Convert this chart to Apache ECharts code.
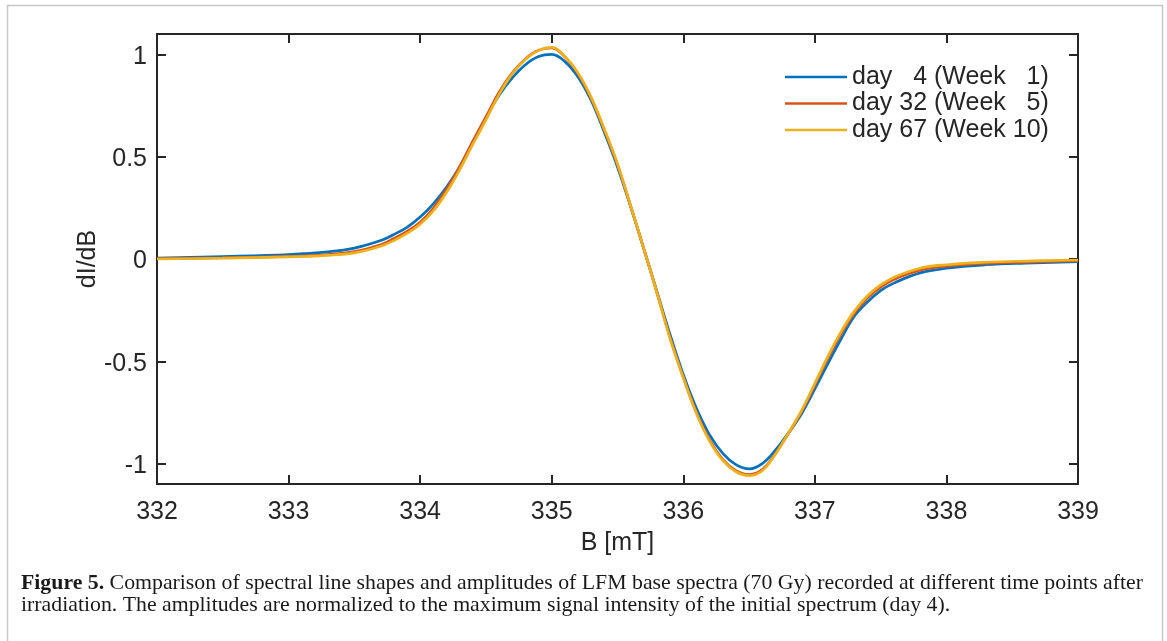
<!DOCTYPE html>
<html>
<head>
<meta charset="utf-8">
<script src="https://cdn.jsdelivr.net/npm/echarts@6/dist/echarts.min.js"></script>
<style>
  html, body { margin: 0; padding: 0; background: #fff; }
  #chart { width: 1167px; height: 641px; }
</style>
</head>
<body>
<div id="chart"></div>
<script>
// magnetic field B [mT]
const fieldB = [332.0, 332.5, 333.0, 333.3, 333.5, 333.7, 333.8, 333.9, 334.0, 334.1,
  334.2, 334.3, 334.4, 334.5, 334.6, 334.7, 334.8, 334.9, 335.0, 335.1,
  335.2, 335.3, 335.4, 335.5, 335.6, 335.7, 335.8, 335.9, 336.0, 336.1,
  336.2, 336.3, 336.4, 336.5, 336.6, 336.7, 336.8, 336.9, 337.0, 337.1,
  337.2, 337.3, 337.4, 337.5, 337.6, 337.8, 338.0, 338.3, 338.6, 339.0];

// dI/dB, normalized to day 4 maximum
const day4 = [0.005, 0.012, 0.022, 0.035, 0.053, 0.09, 0.12, 0.155, 0.205, 0.27,
  0.35, 0.45, 0.57, 0.69, 0.80, 0.885, 0.95, 0.99, 1.0, 0.965,
  0.89, 0.775, 0.62, 0.45, 0.256, 0.05, -0.16, -0.37, -0.565, -0.73,
  -0.86, -0.95, -1.005, -1.026, -1.0, -0.935, -0.85, -0.755, -0.635, -0.51,
  -0.39, -0.28, -0.21, -0.155, -0.118, -0.068, -0.045, -0.028, -0.02, -0.013];

const day32 = [0.002, 0.006, 0.013, 0.022, 0.036, 0.07, 0.1, 0.135, 0.18, 0.248,
  0.34, 0.45, 0.575, 0.695, 0.815, 0.91, 0.978, 1.02, 1.032, 0.988,
  0.905, 0.785, 0.63, 0.46, 0.258, 0.05, -0.165, -0.385, -0.578, -0.75,
  -0.885, -0.98, -1.035, -1.054, -1.03, -0.952, -0.852, -0.745, -0.615, -0.485,
  -0.365, -0.265, -0.19, -0.138, -0.1, -0.055, -0.035, -0.021, -0.015, -0.008];

const day67 = [0.0, 0.004, 0.01, 0.018, 0.03, 0.062, 0.09, 0.125, 0.17, 0.235,
  0.325, 0.436, 0.56, 0.68, 0.805, 0.905, 0.975, 1.02, 1.035, 0.99,
  0.91, 0.79, 0.635, 0.465, 0.26, 0.05, -0.165, -0.39, -0.58, -0.755,
  -0.89, -0.985, -1.04, -1.059, -1.035, -0.955, -0.85, -0.74, -0.608, -0.475,
  -0.355, -0.255, -0.18, -0.127, -0.09, -0.045, -0.028, -0.016, -0.01, -0.005];

const seriesNames = ["day   4 (Week   1)", "day 32 (Week   5)", "day 67 (Week 10)"];
const seriesColors = ["#0072BD", "#D95319", "#EDB120"];
const yTicks = [-1, -0.5, 0, 0.5, 1];

const axisColor = "#262626";
const font = "'Liberation Sans', Arial, sans-serif";
const serif = "'Liberation Serif', 'Times New Roman', serif";

const pairs = ys => fieldB.map((b, i) => [b, ys[i]]);

const chart = echarts.init(document.getElementById("chart"), null, { renderer: "canvas" });

const lineSeries = [day4, day32, day67].map((ys, i) => ({
  name: seriesNames[i],
  type: "line",
  data: pairs(ys),
  smooth: 0.4,
  symbol: "none",
  lineStyle: { color: seriesColors[i], width: 2.7 },
  itemStyle: { color: seriesColors[i] },
  z: 2 + i
}));

const tickCommon = {
  show: true,
  inside: true,
  length: 9,
  lineStyle: { color: axisColor, width: 2 }
};

chart.setOption({
  animation: false,
  backgroundColor: "#fff",
  grid: { left: 157, top: 34, width: 921, height: 450, containLabel: false },
  xAxis: [
    {
      type: "value",
      min: 332,
      max: 339,
      interval: 1,
      name: "B [mT]",
      nameLocation: "middle",
      nameGap: 47,
      nameTextStyle: { color: axisColor, fontSize: 25, fontFamily: font },
      axisLine: { onZero: false, lineStyle: { color: axisColor, width: 2 } },
      axisTick: tickCommon,
      axisLabel: { color: axisColor, fontSize: 25, fontFamily: font, margin: 16 },
      splitLine: { show: false }
    },
    {
      type: "value",
      position: "top",
      min: 332,
      max: 339,
      interval: 1,
      axisLine: { onZero: false, lineStyle: { color: axisColor, width: 2 } },
      axisTick: tickCommon,
      axisLabel: { show: false },
      splitLine: { show: false }
    }
  ],
  yAxis: [
    {
      type: "value",
      min: -1.1,
      max: 1.1,
      name: "dI/dB",
      nameLocation: "middle",
      nameGap: 56,
      nameMoveOverlap: false,
      nameTextStyle: { color: axisColor, fontSize: 25, fontFamily: font },
      axisLine: { show: true, onZero: false, lineStyle: { color: axisColor, width: 2 } },
      axisTick: Object.assign({}, tickCommon, { customValues: yTicks }),
      axisLabel: {
        margin: 10,
        customValues: yTicks,
        formatter: v => "{a|" + v + "}",
        rich: {
          a: { color: axisColor, fontSize: 25, fontFamily: font, padding: [5, 0, 0, 0] }
        }
      },
      splitLine: { show: false }
    },
    {
      type: "value",
      position: "right",
      min: -1.1,
      max: 1.1,
      axisLine: { show: true, onZero: false, lineStyle: { color: axisColor, width: 2 } },
      axisTick: Object.assign({}, tickCommon, { customValues: yTicks }),
      axisLabel: { show: false },
      splitLine: { show: false }
    }
  ],
  legend: {
    orient: "vertical",
    left: 785,
    top: 64.5,
    padding: 0,
    itemWidth: 62,
    itemHeight: 14,
    itemGap: 1.5,
    icon: "path://M0,0 L62,0 L62,2.7 L0,2.7 Z",
    textStyle: { color: axisColor, fontSize: 25, fontFamily: font },
    data: seriesNames
  },
  graphic: [
    {
      type: "rect",
      shape: { x: 7.5, y: 5.5, width: 1155, height: 660 },
      style: { fill: "none", stroke: "#c8c8c8", lineWidth: 1.5 },
      silent: true
    },
    {
      type: "text",
      left: 21,
      top: 572.5,
      style: {
        text: "{b|Figure 5.} Comparison of spectral line shapes and amplitudes of LFM base spectra (70 Gy) recorded at different time points after\nirradiation. The amplitudes are normalized to the maximum signal intensity of the initial spectrum (day 4).",
        fontFamily: serif,
        fontSize: 21.8,
        lineHeight: 22,
        fill: "#1a1a1a",
        rich: {
          b: { fontFamily: serif, fontSize: 21.8, fontWeight: "bold", fill: "#1a1a1a" }
        }
      }
    }
  ],
  series: lineSeries
});
</script>
</body>
</html>
